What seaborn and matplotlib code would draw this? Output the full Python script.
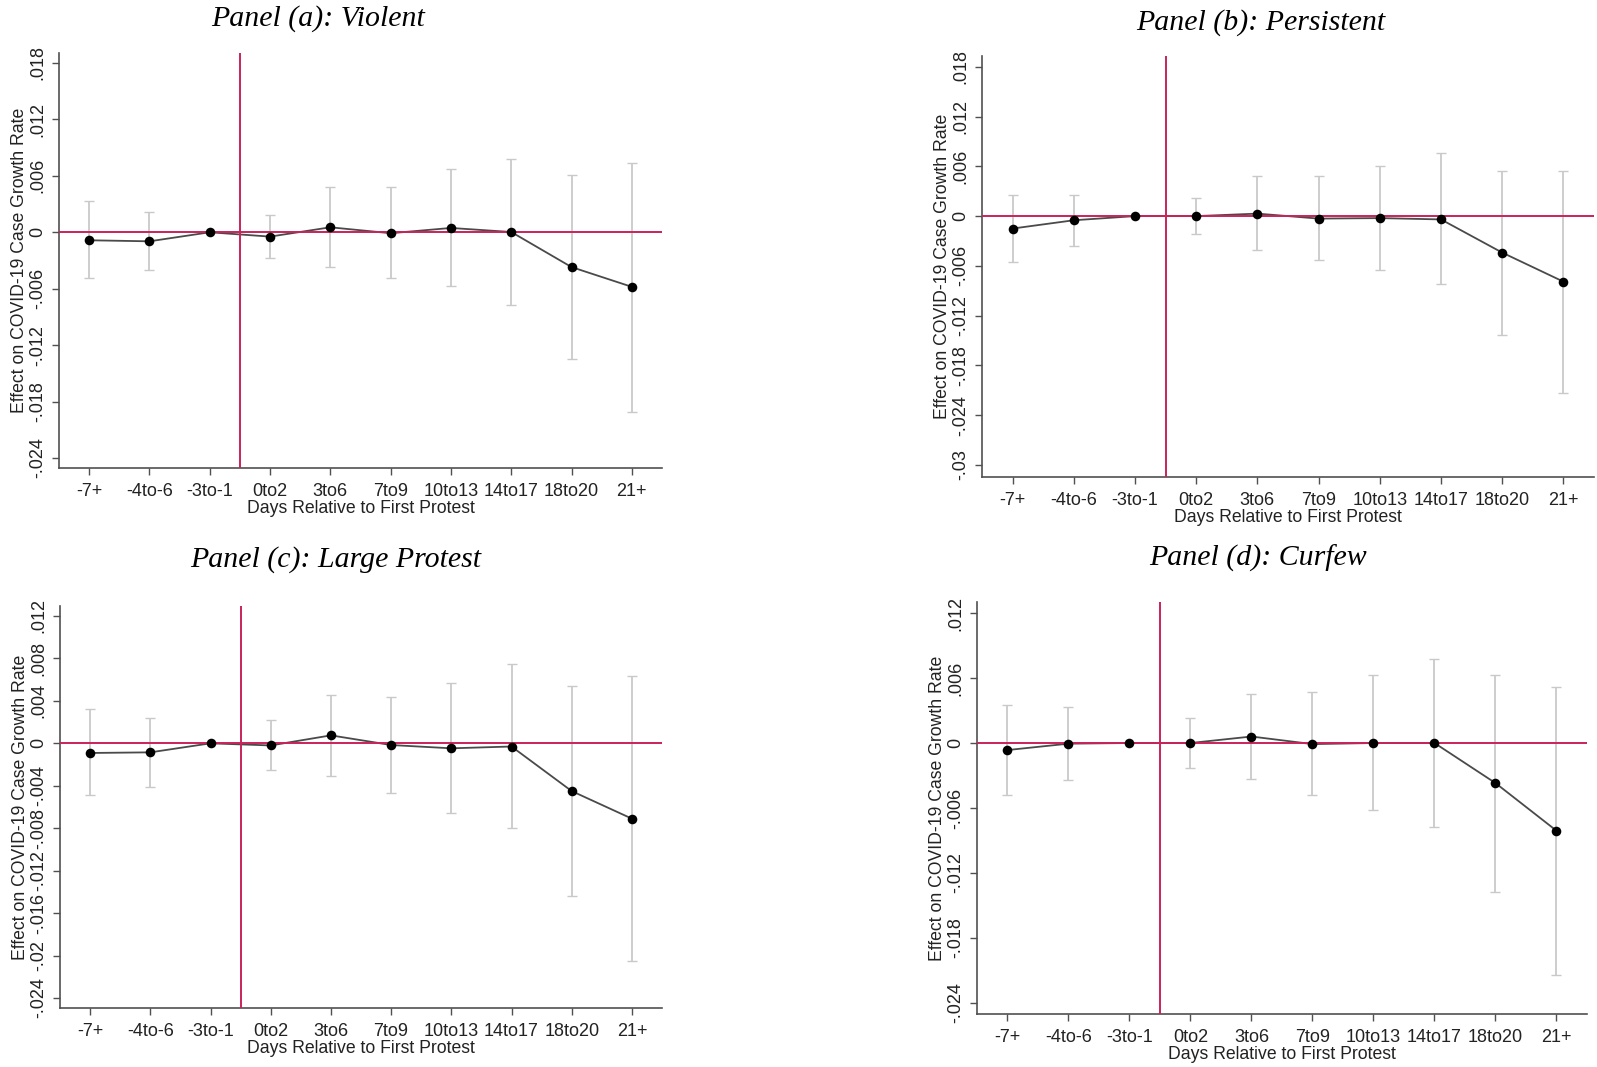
import numpy as np
import pandas as pd
import matplotlib
matplotlib.use("Agg")
import matplotlib.pyplot as plt
import seaborn as sns
from matplotlib.ticker import FuncFormatter, FixedLocator

categories = ["-7+", "-4to-6", "-3to-1", "0to2", "3to6", "7to9", "10to13", "14to17", "18to20", "21+"]

# Panel (a): Violent
coef_a = [-0.00085, -0.00096, 0.0, -0.00046, 0.00053, -0.0001, 0.00046, 0.00003, -0.0037, -0.0058]
lo_a   = [-0.0049, -0.0040, 0.0, -0.0027, -0.0037, -0.0049, -0.0057, -0.0077, -0.0135, -0.0191]
hi_a   = [0.0033, 0.0022, 0.0, 0.0018, 0.0048, 0.0048, 0.0067, 0.0078, 0.0061, 0.0074]

# Panel (b): Persistent
coef_b = [-0.0015, -0.0005, 0.0, 0.0, 0.0003, -0.0003, -0.00024, -0.0004, -0.0044, -0.0079]
lo_b   = [-0.0055, -0.0036, 0.0, -0.0021, -0.0041, -0.0053, -0.0065, -0.0082, -0.0143, -0.0213]
hi_b   = [0.00256, 0.0026, 0.0, 0.0022, 0.0048, 0.0048, 0.0061, 0.0076, 0.0054, 0.0054]

# Panel (c): Large Protest
coef_c = [-0.00091, -0.00085, 0.0, -0.0002, 0.00075, -0.00016, -0.00047, -0.0003, -0.0045, -0.0071]
lo_c   = [-0.0049, -0.0041, 0.0, -0.0025, -0.0031, -0.0047, -0.0066, -0.0080, -0.0144, -0.0205]
hi_c   = [0.0032, 0.0024, 0.0, 0.0022, 0.0046, 0.0044, 0.0057, 0.0075, 0.0054, 0.0063]

# Panel (d): Curfew
coef_d = [-0.00065, -0.00006, 0.0, 0.0, 0.0006, -0.0001, 0.0, 0.0, -0.0037, -0.0081]
lo_d   = [-0.0048, -0.0034, 0.0, -0.0023, -0.0033, -0.0048, -0.0062, -0.0078, -0.0138, -0.0214]
hi_d   = [0.0035, 0.0033, 0.0, 0.0023, 0.0045, 0.0047, 0.0063, 0.0078, 0.0063, 0.0052]

titles = ["Panel (a): Violent", "Panel (b): Persistent", "Panel (c): Large Protest", "Panel (d): Curfew"]
yticks_list = [
    [-0.024, -0.018, -0.012, -0.006, 0, 0.006, 0.012, 0.018],
    [-0.03, -0.024, -0.018, -0.012, -0.006, 0, 0.006, 0.012, 0.018],
    [-0.024, -0.02, -0.016, -0.012, -0.008, -0.004, 0, 0.004, 0.008, 0.012],
    [-0.024, -0.018, -0.012, -0.006, 0, 0.006, 0.012],
]
ylims = [(-0.02506, 0.01906), (-0.03145, 0.0193), (-0.02494, 0.01294), (-0.02502, 0.01302)]
ref_category = "-3to-1"

W, H = 1597, 1067
sns.set_theme(style="white")
plt.rcParams["font.family"] = ["Liberation Sans", "DejaVu Sans"]

fig = plt.figure(figsize=(W / 100, H / 100), dpi=100)
fig.patch.set_facecolor("white")

# pixel boxes: left, right, top, bottom
boxes = [(59, 662, 53, 468), (982, 1594, 56, 477), (60, 662, 606, 1008), (977, 1587, 602, 1014)]
title_pos = [(318, 19), (1261, 23), (336, 560), (1258, 558)]

def fmt(v, pos=None):
    if abs(v) < 1e-12:
        return "0"
    s = f"{v:.3f}".rstrip("0").rstrip(".")
    return s.replace("0.", ".", 1)

data = [(coef_a, lo_a, hi_a), (coef_b, lo_b, hi_b), (coef_c, lo_c, hi_c), (coef_d, lo_d, hi_d)]
red = "#c8245a"
axis_col = "#505050"
fs = 13

for i, ((coef, lo, hi), (l, r, t, b)) in enumerate(zip(data, boxes)):
    ax = fig.add_axes([l / W, 1 - b / H, (r - l) / W, (b - t) / H])
    ax.set_facecolor("white")
    df = pd.DataFrame({"cat": categories, "x": np.arange(len(categories)),
                       "coef": coef, "lo": lo, "hi": hi})
    ci = df[df["cat"] != ref_category]
    ax.errorbar(ci["x"], ci["coef"],
                yerr=[ci["coef"] - ci["lo"], ci["hi"] - ci["coef"]],
                fmt="none", ecolor="#c9c9c9", elinewidth=1.3, capsize=3.5, capthick=1.0, zorder=1)
    sns.lineplot(data=df, x="x", y="coef", ax=ax, color="#4a4a4a", linewidth=1.3,
                 sort=False, zorder=2)
    ax.axhline(0, color=red, linewidth=1.4, zorder=3)
    ax.axvline(2.5, color=red, linewidth=1.4, zorder=3)
    sns.scatterplot(data=df, x="x", y="coef", ax=ax, color="black", s=48,
                    edgecolor="black", linewidth=0, zorder=4)
    ax.set_xlim(-0.5, 9.5)
    ax.set_ylim(*ylims[i])
    ax.xaxis.set_major_locator(FixedLocator(np.arange(len(categories))))
    ax.set_xticklabels(categories)
    ax.yaxis.set_major_locator(FixedLocator(yticks_list[i]))
    ax.yaxis.set_major_formatter(FuncFormatter(fmt))
    for lab in ax.get_yticklabels():
        lab.set_rotation(90)
        lab.set_va("center")
    ax.tick_params(axis="both", which="major", direction="out", length=5, width=1,
                   color=axis_col, labelsize=fs, labelcolor="#222222",
                   left=True, bottom=True)
    ax.tick_params(axis="x", pad=6)
    ax.tick_params(axis="y", pad=4)
    for side in ["top", "right"]:
        ax.spines[side].set_visible(False)
    for side in ["left", "bottom"]:
        ax.spines[side].set_color(axis_col)
        ax.spines[side].set_linewidth(1.2)
    ax.set_xlabel("Days Relative to First Protest", fontsize=12.7, color="#222222", labelpad=0)
    ax.set_ylabel("Effect on COVID-19 Case Growth Rate", fontsize=12.7, color="#222222", labelpad=1)
    ax.grid(False)
    tx, ty = title_pos[i]
    fig.text(tx / W, 1 - ty / H, titles[i], ha="center", va="center",
             fontsize=21.5, fontstyle="italic", family=["Liberation Serif", "DejaVu Serif"],
             color="black")

fig.savefig("out.png", dpi=100, facecolor="white")
